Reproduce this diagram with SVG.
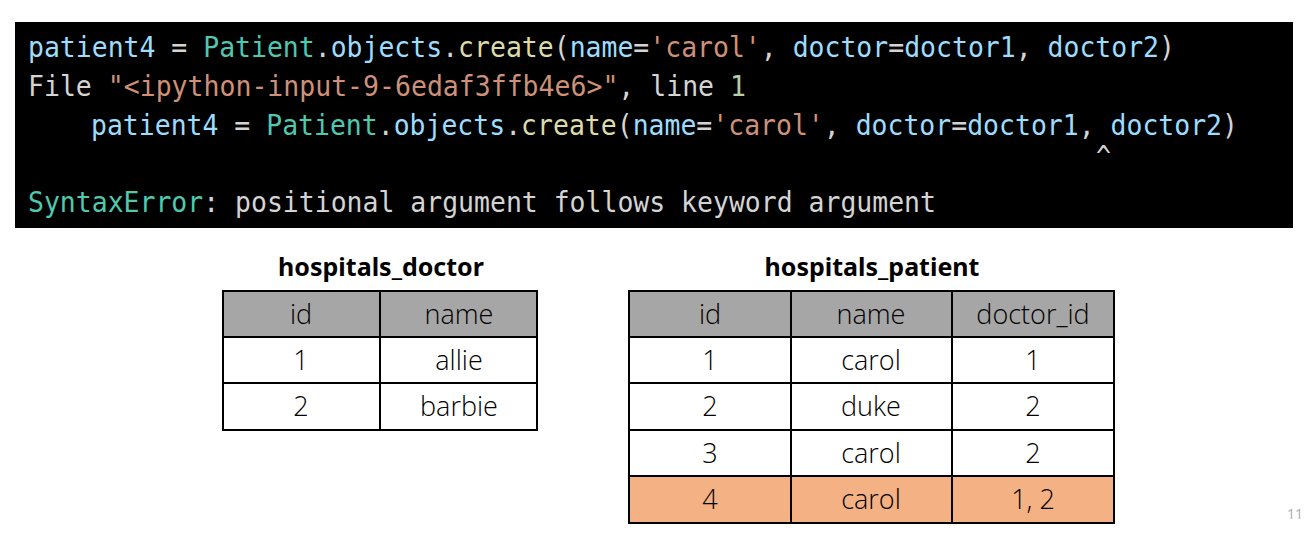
<svg xmlns="http://www.w3.org/2000/svg" width="1310" height="536" viewBox="0 0 1310 536">
<style>
.code{font-family:"DejaVu Sans Mono","Liberation Mono",monospace;font-size:28px;white-space:pre}
.b{fill:#9CDCFE}.t{fill:#4EC9B0}.y{fill:#DCDCAA}.o{fill:#CE9178}.w{fill:#D4D4D4}.g{fill:#B5CEA8}
.title{font-family:"Noto Sans","Open Sans",sans-serif;font-weight:bold;font-size:25px;text-anchor:middle;fill:#000}
.cell{font-family:"Open Sans","Noto Sans",sans-serif;font-weight:300;font-size:27px;text-anchor:middle;fill:#000}
.hdr{fill:#A6A6A6}.row{fill:#FFFFFF}.hl{fill:#F4B183}
.grid{stroke:#000;stroke-width:2;fill:none}
</style>
<rect width="1310" height="536" fill="#FFFFFF"/>
<g id="code">
<rect x="15" y="22" width="1278" height="206" fill="#000000"/>
<text class="code" x="28" y="57" textLength="1147" lengthAdjust="spacingAndGlyphs"><tspan class="b">patient4</tspan><tspan class="w"> = </tspan><tspan class="t">Patient</tspan><tspan class="w">.</tspan><tspan class="b">objects</tspan><tspan class="w">.</tspan><tspan class="y">create</tspan><tspan class="w">(</tspan><tspan class="b">name</tspan><tspan class="w">=</tspan><tspan class="o">'carol'</tspan><tspan class="w">, </tspan><tspan class="b">doctor</tspan><tspan class="w">=</tspan><tspan class="b">doctor1</tspan><tspan class="w">, </tspan><tspan class="b">doctor2</tspan><tspan class="w">)</tspan></text>
<text class="code" x="28" y="96" textLength="718" lengthAdjust="spacingAndGlyphs"><tspan class="w">File </tspan><tspan class="o">"&lt;ipython-input-9-6edaf3ffb4e6&gt;"</tspan><tspan class="w">, line </tspan><tspan class="g">1</tspan></text>
<text class="code" x="91" y="135" textLength="1147" lengthAdjust="spacingAndGlyphs"><tspan class="b">patient4</tspan><tspan class="w"> = </tspan><tspan class="t">Patient</tspan><tspan class="w">.</tspan><tspan class="b">objects</tspan><tspan class="w">.</tspan><tspan class="y">create</tspan><tspan class="w">(</tspan><tspan class="b">name</tspan><tspan class="w">=</tspan><tspan class="o">'carol'</tspan><tspan class="w">, </tspan><tspan class="b">doctor</tspan><tspan class="w">=</tspan><tspan class="b">doctor1</tspan><tspan class="w">, </tspan><tspan class="b">doctor2</tspan><tspan class="w">)</tspan></text>
<text class="code w" x="1096" y="166" textLength="15" lengthAdjust="spacingAndGlyphs">^</text>
<text class="code" x="28" y="212" textLength="908" lengthAdjust="spacingAndGlyphs"><tspan class="t">SyntaxError</tspan><tspan class="w">: positional argument follows keyword argument</tspan></text>
</g>
<g id="hospitals_doctor">
<text class="title" x="381" y="276">hospitals_doctor</text>
<rect class="hdr" x="223" y="291" width="314" height="46"/>
<rect class="row" x="223" y="337" width="314" height="93"/>
<path class="grid" d="M223 291H537V430H223Z M223 337H537 M223 383H537 M380 291V430"/>
<text class="cell" x="301" y="324">id</text><text class="cell" x="459" y="324">name</text>
<text class="cell" x="301" y="370">1</text><text class="cell" x="459" y="370">allie</text>
<text class="cell" x="301" y="416">2</text><text class="cell" x="459" y="416">barbie</text>
</g>
<g id="hospitals_patient">
<text class="title" x="872" y="276">hospitals_patient</text>
<rect class="hdr" x="629" y="291" width="485" height="46"/>
<rect class="row" x="629" y="337" width="485" height="139"/>
<rect class="hl" x="629" y="476" width="485" height="47"/>
<path class="grid" d="M629 291H1114V523H629Z M629 337H1114 M629 383H1114 M629 430H1114 M629 476H1114 M791 291V523 M952 291V523"/>
<text class="cell" x="710" y="324">id</text><text class="cell" x="871" y="324">name</text><text class="cell" x="1033" y="324">doctor_id</text>
<text class="cell" x="710" y="370">1</text><text class="cell" x="871" y="370">carol</text><text class="cell" x="1033" y="370">1</text>
<text class="cell" x="710" y="416">2</text><text class="cell" x="871" y="416">duke</text><text class="cell" x="1033" y="416">2</text>
<text class="cell" x="710" y="463">3</text><text class="cell" x="871" y="463">carol</text><text class="cell" x="1033" y="463">2</text>
<text class="cell" x="710" y="509">4</text><text class="cell" x="871" y="509">carol</text><text class="cell" x="1033" y="509">1, 2</text>
</g>
<g id="connectors"></g>
<text x="1295" y="519" font-family="Noto Sans, sans-serif" font-size="14" fill="#B0B0B0" text-anchor="middle">11</text>
</svg>
